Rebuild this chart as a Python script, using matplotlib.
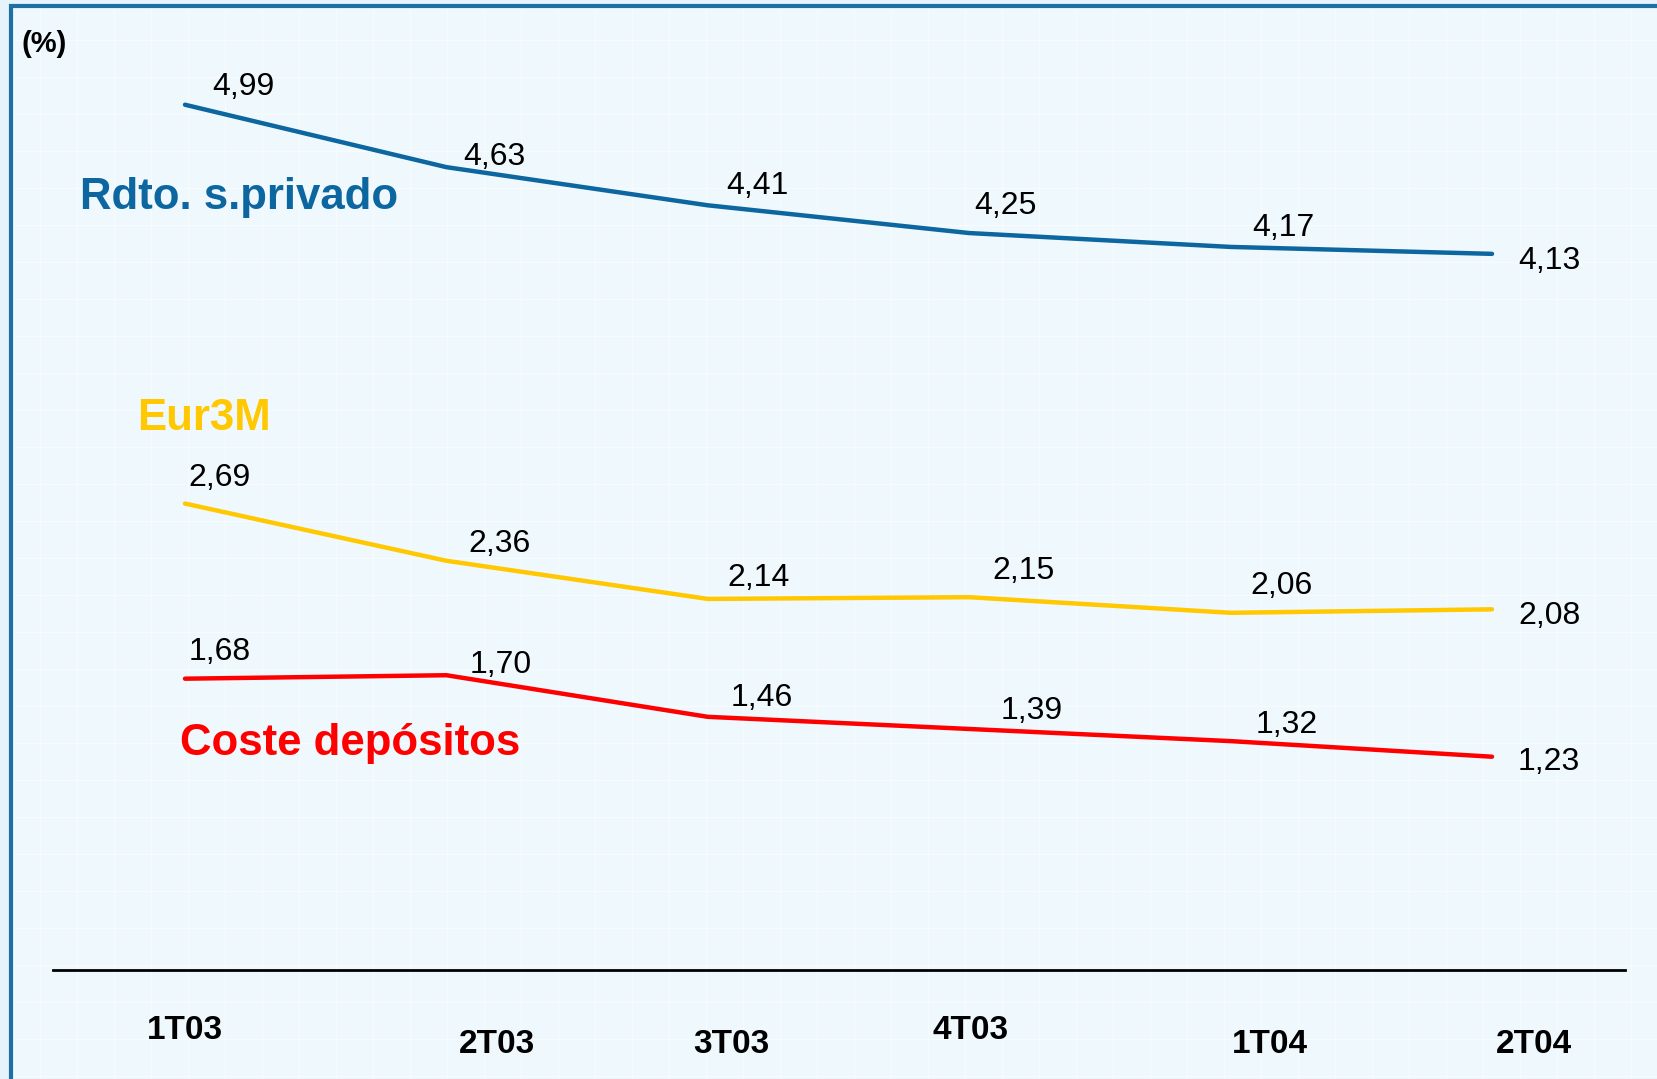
import matplotlib
matplotlib.use("Agg")
import matplotlib.pyplot as plt
from matplotlib.patches import Rectangle

plt.rcParams['font.family'] = ['Liberation Sans', 'DejaVu Sans']

categories = ["1T03", "2T03", "3T03", "4T03", "1T04", "2T04"]
rdto = [4.99, 4.63, 4.41, 4.25, 4.17, 4.13]
eur3m = [2.69, 2.36, 2.14, 2.15, 2.06, 2.08]
coste = [1.68, 1.70, 1.46, 1.39, 1.32, 1.23]
series_names = ["Rdto. s.privado", "Eur3M", "Coste depósitos"]

W, H = 1657, 1079
S = W / 1568.0  # reference (shrunk) -> full pixel scale

fig = plt.figure(figsize=(W / 100, H / 100), dpi=100)
fig.patch.set_facecolor("#e6f3fb")

def fx(x):  # shrunk px -> fig fraction
    return x * S / W

def fy(y):
    return 1 - y * S / H

# background axes: inner panel, frame, faint grid
bg = fig.add_axes([0, 0, 1, 1], zorder=0)
bg.set_xlim(0, 1)
bg.set_ylim(0, 1)
bg.axis("off")
bg.add_patch(Rectangle((fx(10), -0.1), 1.2, fy(6) + 0.1,
                       facecolor="#eff8fd", edgecolor="#1e6fa6", linewidth=3))
for gx in range(40, W, 37):
    bg.plot([gx / W, gx / W], [0, fy(6) - 0.003], color="white", lw=0.8, alpha=0.45)
for gy in range(40, H, 37):
    bg.plot([fx(10) + 0.002, 1], [1 - gy / H, 1 - gy / H], color="white", lw=0.8, alpha=0.45)

ax = fig.add_axes([0, 0, 1, 1], zorder=2)
ax.set_facecolor("none")
for s in ax.spines.values():
    s.set_visible(False)
ax.set_xticks([])
ax.set_yticks([])

# mapping: index 0 at full px 185, step 261.4; y=0 at full px 970, 173.4 px/unit
x0, dx = 185.0, 261.4
y0, dy = 970.0, 173.4
ax.set_xlim(-x0 / dx, (W - x0) / dx)
ax.set_ylim(-(H - y0) / dy, y0 / dy)

xs = list(range(len(categories)))
colors = ["#0c66a0", "#ffc800", "#ff0000"]
data = [rdto, eur3m, coste]
for vals, c in zip(data, colors):
    ax.plot(xs, vals, color=c, lw=3.2, solid_capstyle="round", zorder=3)

# value label offsets (shrunk px, dx right, dy up)
offs = [
    [(55, 17), (45, 10), (47, 18), (34, 26), (50, 18), (54, -7)],
    [(33, 24), (50, 16), (48, 20), (51, 25), (48, 25), (54, -6)],
    [(33, 25), (51, 10), (51, 18), (59, 17), (53, 15), (54, -5)],
]
for vals, off in zip(data, offs):
    for i, (v, o) in enumerate(zip(vals, off)):
        ax.annotate(f"{v:.2f}".replace(".", ","), (i, v), xytext=(o[0] * S, o[1] * S),
                    textcoords="offset pixels", ha="center", va="center",
                    fontsize=23, color="black")

# series labels
lab_pos = [(76, 187), (130, 396), (170, 704)]
for name, c, (px, py) in zip(series_names, colors, lab_pos):
    fig.text(fx(px), fy(py), name, color=c, fontsize=31.5, fontweight="bold",
             ha="left", va="center", zorder=3)

# x axis line
ax.axhline(0, xmin=53 / W, xmax=1625 / W, color="black", lw=2)

# category labels (staggered)
tick_pos = [(175, 975), (470, 988), (692, 988), (918, 975), (1202, 988), (1452, 988)]
for cat, (px, py) in zip(categories, tick_pos):
    fig.text(fx(px), fy(py), cat, fontsize=24, fontweight="bold", ha="center", va="center",
             zorder=3)

fig.text(fx(20), fy(42), "(%)", fontsize=21, fontweight="bold", ha="left", va="center", zorder=3)

fig.savefig("out.png", dpi=100, facecolor=fig.get_facecolor())
